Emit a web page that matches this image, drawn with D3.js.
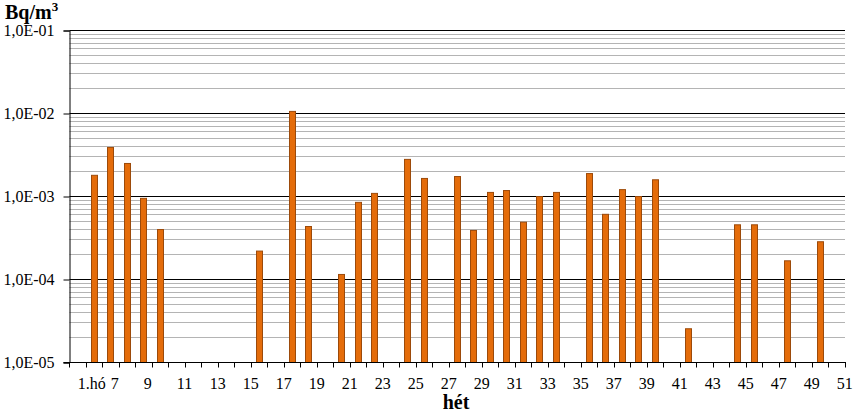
<!DOCTYPE html>
<html>
<head>
<meta charset="utf-8">
<script src="https://cdn.jsdelivr.net/npm/d3@7/dist/d3.min.js"></script>
<style>
  html, body { margin: 0; padding: 0; background: #fff; }
  svg { display: block; }
  text { font-family: "Liberation Serif", "Times New Roman", serif; }
</style>
</head>
<body>
<svg id="chart" width="853" height="413"></svg>
<script>
// ---- data ----
const categories = ["1.hó","6","7","8","9","10","11","12","13","14","15","16","17","18","19","20",
  "21","22","23","24","25","26","27","28","29","30","31","32","33","34","35","36","37","38","39",
  "40","41","42","43","44","45","46","47","48","49","50","51"];
const values = [null, 1.8e-3, 3.9e-3, 2.5e-3, 9.5e-4, 4.0e-4, null, null, null, null, null,
  2.2e-4, null, 1.06e-2, 4.35e-4, null, 1.15e-4, 8.5e-4, 1.09e-3, null, 2.8e-3, 1.65e-3, null,
  1.74e-3, 3.9e-4, 1.12e-3, 1.18e-3, 4.9e-4, 1.0e-3, 1.12e-3, null, 1.89e-3, 6.1e-4, 1.21e-3,
  1.0e-3, 1.59e-3, null, 2.55e-5, null, null, 4.56e-4, 4.56e-4, null, 1.68e-4, null, 2.85e-4, null];
const yTickValues = [1e-5, 1e-4, 1e-3, 1e-2, 1e-1];
const yTickLabels = ["1,0E-05", "1,0E-04", "1,0E-03", "1,0E-02", "1,0E-01"];
const yTitle = "Bq/m";
const xTitle = "hét";

// ---- layout ----
const svg = d3.select("#chart");
const pLeft = 69.5, pRight = 845, pTop = 30.5, pBottom = 362.5;

const x = d3.scaleBand().domain(categories).range([pLeft, pRight]).paddingInner(0.56).paddingOuter(0.28);
const xs = d3.scaleBand().domain(categories).range([pLeft, pRight]);
const y = d3.scaleLog().domain([1e-5, 1e-1]).range([pBottom, pTop]);

// minor gridlines
const minor = [];
for (let e = -5; e < -1; e++) for (let m = 2; m <= 9; m++) minor.push(m * Math.pow(10, e));
svg.append("g").selectAll("line").data(minor).join("line")
  .attr("x1", pLeft).attr("x2", pRight)
  .attr("y1", d => Math.round(y(d) - 0.5) + 0.5).attr("y2", d => Math.round(y(d) - 0.5) + 0.5)
  .attr("stroke", "#b4b4b4").attr("stroke-width", 1);

// major gridlines
svg.append("g").selectAll("line").data(yTickValues.slice(1)).join("line")
  .attr("x1", pLeft).attr("x2", pRight)
  .attr("y1", d => y(d)).attr("y2", d => y(d))
  .attr("stroke", "#000").attr("stroke-width", 1);

// bars
svg.append("g").selectAll("rect")
  .data(categories.map((c, i) => ({ c, v: values[i] })).filter(d => d.v != null))
  .join("rect")
  .attr("x", d => Math.round(x(d.c)) + 0.5)
  .attr("width", Math.round(x.bandwidth()) - 1)
  .attr("y", d => y(d.v))
  .attr("height", d => pBottom - y(d.v))
  .attr("fill", "#e46c0a")
  .attr("stroke", "#9c4a0a")
  .attr("stroke-width", 1);

// y axis
const yAxis = d3.axisLeft(y).tickValues(yTickValues)
  .tickFormat((d, i) => yTickLabels[i]).tickSize(6).tickPadding(9);
const gy = svg.append("g").attr("transform", `translate(${pLeft},0)`).call(yAxis);
gy.select(".domain").attr("stroke", "#000");
gy.selectAll(".tick line").attr("stroke", "#000");
gy.selectAll("text").attr("font-size", 16).attr("fill", "#000")
  .attr("font-family", "Liberation Serif, Times New Roman, serif");

// x axis: tick marks at slot boundaries
const gx = svg.append("g");
gx.append("line").attr("x1", pLeft - 6).attr("x2", pRight + 1).attr("y1", pBottom).attr("y2", pBottom)
  .attr("stroke", "#000");
const bounds = categories.map(c => xs(c)).concat([pRight]);
gx.selectAll("line.t").data(bounds).join("line").attr("class", "t")
  .attr("x1", d => Math.round(d - 0.5) + 0.5).attr("x2", d => Math.round(d - 0.5) + 0.5)
  .attr("y1", pBottom).attr("y2", pBottom + 5)
  .attr("stroke", "#000");
gx.selectAll("text").data(categories.filter((c, i) => i % 2 === 0)).join("text")
  .attr("x", d => xs(d) + xs.bandwidth() / 2)
  .attr("y", 389)
  .attr("text-anchor", "start")
  .attr("font-size", 16)
  .attr("fill", "#000")
  .text(d => d);

// titles
const t = svg.append("text").attr("x", 5).attr("y", 18.5).attr("font-size", 20)
  .attr("font-weight", "bold").attr("fill", "#000").text(yTitle);
t.append("tspan").attr("dy", -8).attr("font-size", 13).text("3");

svg.append("text").attr("x", 456).attr("y", 409).attr("text-anchor", "middle")
  .attr("font-size", 20).attr("font-weight", "bold").attr("fill", "#000").text(xTitle);
</script>
</body>
</html>
